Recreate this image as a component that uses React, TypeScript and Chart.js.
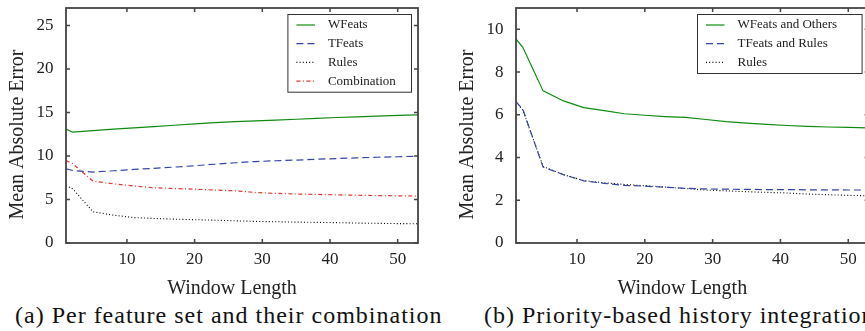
import React, { useEffect, useRef } from "react";
import { Chart, registerables } from "chart.js";

Chart.register(...registerables);

// ---------- data ----------
const windowLengths = [1, 2, 5, 8, 11, 14, 17, 20, 23, 26, 29, 32, 35, 38, 41, 44, 47, 50, 53];
const xTicks = [10, 20, 30, 40, 50];
const leftYTicks = [0, 5, 10, 15, 20, 25];
const rightYTicks = [0, 2, 4, 6, 8, 10];

// (a) Per feature set and their combination
const wFeats = [13.1, 12.73, 12.9, 13.08, 13.22, 13.38, 13.53, 13.68, 13.82, 13.95, 14.03, 14.12, 14.22, 14.32, 14.42, 14.5, 14.58, 14.66, 14.72];
const tFeats = [8.52, 8.33, 8.15, 8.3, 8.45, 8.58, 8.72, 8.88, 9.05, 9.22, 9.36, 9.45, 9.53, 9.62, 9.7, 9.78, 9.85, 9.91, 9.98];
const rules = [6.6, 6.22, 3.58, 3.2, 2.92, 2.82, 2.74, 2.68, 2.62, 2.55, 2.48, 2.44, 2.4, 2.37, 2.34, 2.29, 2.26, 2.23, 2.21];
const combination = [9.47, 9.1, 7.1, 6.8, 6.55, 6.35, 6.25, 6.19, 6.08, 6.0, 5.8, 5.7, 5.63, 5.58, 5.53, 5.49, 5.45, 5.42, 5.39];

// (b) Priority-based history integration
const wFeatsOthers = [9.55, 9.16, 7.12, 6.65, 6.34, 6.2, 6.05, 5.98, 5.92, 5.88, 5.78, 5.68, 5.61, 5.55, 5.5, 5.46, 5.43, 5.41, 5.39];
const tFeatsRules = [6.62, 6.26, 3.55, 3.2, 2.91, 2.79, 2.7, 2.66, 2.61, 2.56, 2.53, 2.52, 2.51, 2.5, 2.5, 2.49, 2.49, 2.48, 2.48];

const captionA = "(a) Per feature set and their combination";
const captionB = "(b) Priority-based history integration";
const xTitle = "Window Length";
const yTitle = "Mean Absolute Error";

// ---------- styles ----------
const SERIF = "'Liberation Serif', 'Times New Roman', serif";
const FRAME = "#444";
const TEXT = "#222";

type Series = { label: string; values: number[]; color: string; dash: number[]; width: number };

const styleGreen = { color: "#118a11", dash: [] as number[], width: 1.2 };
const styleBlue = { color: "#3346a6", dash: [7, 4], width: 1.2 };
const styleBlack = { color: "#000000", dash: [1, 2.2], width: 1.1 };
const styleRed = { color: "#e8352d", dash: [4, 2.5, 1, 2.5], width: 1.2 };

const seriesA: Series[] = [
  { label: "WFeats", values: wFeats, ...styleGreen },
  { label: "TFeats", values: tFeats, ...styleBlue },
  { label: "Rules", values: rules, ...styleBlack },
  { label: "Combination", values: combination, ...styleRed },
];

const seriesB: Series[] = [
  { label: "WFeats and Others", values: wFeatsOthers, ...styleGreen },
  { label: "TFeats and Rules", values: tFeatsRules, ...styleBlue },
  { label: "Rules", values: rules, ...styleBlack },
];

const framePlugin = {
  id: "frame",
  afterDatasetsDraw(chart: any) {
    const { ctx, chartArea: a, scales } = chart;
    const L = 4;
    ctx.save();
    ctx.strokeStyle = FRAME;
    ctx.lineWidth = 1.5;
    ctx.beginPath();
    scales.x.ticks.forEach((t: any) => {
      const px = scales.x.getPixelForValue(t.value);
      ctx.moveTo(px, a.bottom);
      ctx.lineTo(px, a.bottom - L);
      ctx.moveTo(px, a.top);
      ctx.lineTo(px, a.top + L);
    });
    scales.y.ticks.forEach((t: any) => {
      const py = scales.y.getPixelForValue(t.value);
      ctx.moveTo(a.left, py);
      ctx.lineTo(a.left + L, py);
      ctx.moveTo(a.right, py);
      ctx.lineTo(a.right - L, py);
    });
    ctx.stroke();
    ctx.lineWidth = 1.8;
    ctx.strokeRect(a.left, a.top, a.right - a.left, a.bottom - a.top);

    // axis titles
    ctx.fillStyle = TEXT;
    ctx.font = `20px ${SERIF}`;
    ctx.textAlign = "center";
    ctx.textBaseline = "alphabetic";
    ctx.fillText(xTitle, (a.left + a.right) / 2 - 10, 294);
    ctx.save();
    ctx.translate(a.left - 43, (a.top + a.bottom) / 2 + 9);
    ctx.rotate(-Math.PI / 2);
    ctx.fillText(yTitle, 0, 0);
    ctx.restore();
    ctx.restore();
  },
};

function makeLegendPlugin(boxWidth: number) {
  return {
    id: "boxLegend",
    afterDraw(chart: any) {
      const { ctx, chartArea: a } = chart;
      const ds = chart.data.datasets;
      const rowH = 18.7;
      const padTop = 11;
      const boxH = padTop * 2 + rowH * (ds.length - 1) + 0.6;
      const right = a.right - 6;
      const left = right - boxWidth;
      const top = a.top + 6;
      ctx.save();
      ctx.fillStyle = "#ffffff";
      ctx.fillRect(left, top, boxWidth, boxH);
      ctx.strokeStyle = "#333";
      ctx.lineWidth = 1;
      ctx.strokeRect(left + 0.5, top + 0.5, boxWidth - 1, boxH - 1);
      ctx.font = `13px ${SERIF}`;
      ctx.textBaseline = "middle";
      ctx.textAlign = "left";
      ds.forEach((d: any, i: number) => {
        const y = top + padTop + i * rowH;
        ctx.beginPath();
        ctx.strokeStyle = d.borderColor;
        ctx.lineWidth = d.borderWidth;
        ctx.setLineDash(d.borderDash || []);
        ctx.moveTo(left + 9, y);
        ctx.lineTo(left + 27.5, y);
        ctx.stroke();
        ctx.setLineDash([]);
        ctx.fillStyle = TEXT;
        ctx.fillText(d.label, left + 40.5, y);
      });
      ctx.restore();
    },
  };
}

function buildConfig(series: Series[], yMax: number, yTicks: number[], yWidth: number, padRight: number, legendWidth: number): any {
  return {
    type: "line",
    data: {
      datasets: series.map((s) => ({
        label: s.label,
        data: windowLengths.map((x, i) => ({ x, y: s.values[i] })),
        borderColor: s.color,
        borderDash: s.dash,
        borderWidth: s.width,
        pointRadius: 0,
        fill: false,
        tension: 0,
      })),
    },
    options: {
      responsive: false,
      animation: false,
      devicePixelRatio: 1,
      layout: { padding: { top: 8, right: padRight, left: 0, bottom: 0 } },
      plugins: { legend: { display: false }, tooltip: { enabled: false } },
      scales: {
        x: {
          type: "linear",
          min: 1,
          max: 53,
          grid: { display: false, drawTicks: false },
          border: { display: false },
          afterBuildTicks: (s: any) => {
            s.ticks = xTicks.map((v) => ({ value: v }));
          },
          afterFit: (s: any) => {
            s.height = 57;
            s.paddingLeft = 0;
            s.paddingRight = 0;
          },
          ticks: { color: TEXT, font: { family: SERIF, size: 17 }, padding: 6, maxRotation: 0 },
          title: { display: false },
        },
        y: {
          type: "linear",
          min: 0,
          max: yMax,
          grid: { display: false, drawTicks: false },
          border: { display: false },
          afterBuildTicks: (s: any) => {
            s.ticks = yTicks.map((v) => ({ value: v }));
          },
          afterFit: (s: any) => {
            s.width = yWidth;
            s.paddingTop = 0;
            s.paddingBottom = 0;
          },
          ticks: { color: TEXT, font: { family: SERIF, size: 17 }, padding: 12.5 },
          title: { display: false },
        },
      },
    },
    plugins: [framePlugin, makeLegendPlugin(legendWidth)],
  };
}

function ChartCanvas(props: { config: () => any; width: number; height: number; left: number }) {
  const ref = useRef<HTMLCanvasElement | null>(null);
  useEffect(() => {
    if (!ref.current) return;
    const chart = new Chart(ref.current, props.config());
    return () => chart.destroy();
  }, []);
  return (
    <canvas
      ref={ref}
      width={props.width}
      height={props.height}
      style={{ position: "absolute", left: props.left, top: 0, width: props.width, height: props.height }}
    />
  );
}

export default function App() {
  const captionStyle: React.CSSProperties = {
    position: "absolute",
    top: 303,
    fontFamily: SERIF,
    fontSize: 24,
    letterSpacing: "1px",
    color: "#111",
    whiteSpace: "nowrap",
    lineHeight: "24px",
  };
  return (
    <div style={{ position: "fixed", left: 0, top: 0, width: 865, height: 331, overflow: "hidden", background: "#fff" }}>
      <ChartCanvas left={0} width={430} height={300} config={() => buildConfig(seriesA, 27, leftYTicks, 66, 12, 124.6)} />
      <ChartCanvas left={448} width={432} height={300} config={() => buildConfig(seriesB, 11, rightYTicks, 68, 11.4, 165.6)} />
      <div style={{ ...captionStyle, left: 15 }}>{captionA}</div>
      <div style={{ ...captionStyle, left: 484 }}>{captionB}</div>
    </div>
  );
}
